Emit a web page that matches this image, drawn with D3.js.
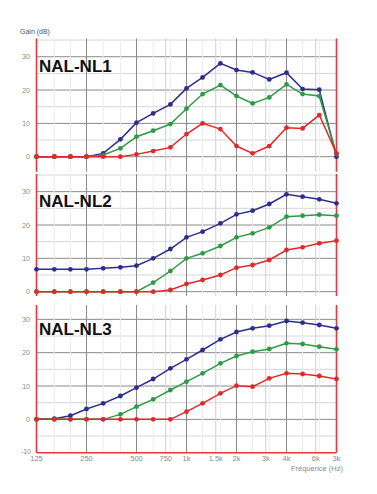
<!DOCTYPE html>
<html>
<head>
<meta charset="utf-8">
<script src="https://cdn.jsdelivr.net/npm/d3@7"></script>
<style>
body { margin: 0; background: #fff; }
text { font-family: "Liberation Sans", Arial, sans-serif; }
</style>
</head>
<body>
<div id="chart"></div>
<script>
// third-octave frequencies (Hz)
var freqs = [125, 160, 200, 250, 315, 400, 500, 630, 800, 1000, 1250, 1600, 2000, 2500, 3150, 4000, 5000, 6300, 8000];

var nl1Blue  = [0, 0, 0, 0, 1, 5.2, 10.2, 13, 15.7, 20.5, 23.8, 28, 26, 25.3, 23.2, 25.2, 20.3, 20.1, 0];
var nl1Green = [0, 0, 0, 0, 0.5, 2.5, 6, 7.8, 9.8, 14.4, 18.8, 21.5, 18.2, 16, 17.8, 21.7, 18.8, 18.2, 0.8];
var nl1Red   = [0, 0, 0, 0, 0, 0, 0.7, 1.7, 2.8, 6.8, 10, 8.3, 3.2, 1, 3.2, 8.7, 8.5, 12.5, 1];

var nl2Blue  = [6.7, 6.7, 6.7, 6.7, 7, 7.3, 7.8, 10, 12.8, 16.3, 18, 20.5, 23.2, 24.3, 26.3, 29.2, 28.5, 27.7, 26.5];
var nl2Green = [0, 0, 0, 0, 0, 0, 0, 2.7, 6.2, 10, 11.5, 13.7, 16.3, 17.5, 19.3, 22.5, 22.8, 23.1, 22.8];
var nl2Red   = [0, 0, 0, 0, 0, 0, 0, 0, 0.5, 2.3, 3.5, 5, 7.2, 8, 9.5, 12.5, 13.3, 14.5, 15.3];

var nl3Blue  = [0, 0.2, 1.1, 3.1, 4.8, 7, 9.5, 12.1, 15.3, 18, 20.8, 24, 26.2, 27.3, 28.1, 29.5, 29, 28.3, 27.3];
var nl3Green = [0, 0, 0, 0, 0, 1.5, 3.8, 6, 8.8, 11.3, 13.8, 16.8, 19, 20.3, 21.1, 22.8, 22.6, 21.8, 21];
var nl3Red   = [0, 0, 0, 0, 0, 0, 0, 0, 0, 2.3, 4.8, 7.8, 10.1, 9.8, 12.3, 13.8, 13.6, 13, 12.1];

var panelNames = ["NAL-NL1", "NAL-NL2", "NAL-NL3"];
var yTicks = [30, 20, 10, 0];
var xTickVals = [125, 250, 500, 750, 1000, 1500, 2000, 3000, 4000, 6000, 8000];
var xTickLabels = ["125", "250", "500", "750", "1k", "1.5k", "2k", "3k", "4k", "6k", "3k"];
var majorX = [250, 500, 1000, 2000, 4000];
var minorX = [750, 1500, 3000, 6000];

var colors = { blue: "#2c2e8e", green: "#2f9a45", red: "#e02a2a" };
var axisRed = "#ee3340";

var svgWidth = 377;
var svgHeight = 494;

var svg = d3.select("#chart")
    .append("svg")
    .attr("width", svgWidth)
    .attr("height", svgHeight);

var x = d3.scaleLog().base(2)
    .domain([125, 8000])
    .range([36.5, 336.5]);

// each panel is a crop of the same gain plot; red drawn last (on top)
var panels = [
    { name: panelNames[0], domain: [-4.5, 35.5], range: [171.7, 38.4], labelY: 72, series: [nl1Blue, nl1Green, nl1Red] },
    { name: panelNames[1], domain: [-1.3, 35.3], range: [296, 174], labelY: 207, series: [nl2Blue, nl2Green, nl2Red] },
    { name: panelNames[2], domain: [-10, 34.3], range: [452.7, 305], labelY: 335, series: [nl3Blue, nl3Green, nl3Red] }
];
var seriesColors = [colors.blue, colors.green, colors.red];

// faint third-octave grid
var faintX = freqs.filter(f => majorX.indexOf(f) < 0 && f !== 125 && f !== 8000);

panels.forEach(function(p, pi) {
    var y = d3.scaleLinear().domain(p.domain).range(p.range);
    var g = svg.append("g");
    var top = p.range[1], bottom = p.range[0];

    // horizontal grid
    var hMinor = d3.range(-10, 36, 5).filter(v => v % 10 !== 0 && v > p.domain[0] && v < p.domain[1]);
    var hMajor = d3.range(-10, 36, 10).filter(v => v > p.domain[0] && v < p.domain[1]);
    g.selectAll(".hminor").data(hMinor).enter().append("line")
        .attr("x1", x(125)).attr("x2", x(8000))
        .attr("y1", d => y(d)).attr("y2", d => y(d))
        .attr("stroke", "#d6d6d6").attr("stroke-width", 1);
    g.selectAll(".hmajor").data(hMajor).enter().append("line")
        .attr("x1", x(125)).attr("x2", x(8000))
        .attr("y1", d => y(d)).attr("y2", d => y(d))
        .attr("stroke", "#8a8a8a").attr("stroke-width", 1);

    // vertical grid
    g.selectAll(".vfaint").data(faintX).enter().append("line")
        .attr("x1", d => x(d)).attr("x2", d => x(d))
        .attr("y1", top).attr("y2", bottom)
        .attr("stroke", "#ececec").attr("stroke-width", 1);
    g.selectAll(".vminor").data(minorX).enter().append("line")
        .attr("x1", d => x(d)).attr("x2", d => x(d))
        .attr("y1", top).attr("y2", bottom)
        .attr("stroke", "#cfcfcf").attr("stroke-width", 1);
    g.selectAll(".vmajor").data(majorX).enter().append("line")
        .attr("x1", d => x(d)).attr("x2", d => x(d))
        .attr("y1", top).attr("y2", bottom)
        .attr("stroke", "#8a8a8a").attr("stroke-width", 1);

    // red frame sides
    g.append("line")
        .attr("x1", x(125)).attr("x2", x(125))
        .attr("y1", top).attr("y2", bottom)
        .attr("stroke", axisRed).attr("stroke-width", 1.6);
    g.append("line")
        .attr("x1", x(8000)).attr("x2", x(8000))
        .attr("y1", top).attr("y2", bottom)
        .attr("stroke", axisRed).attr("stroke-width", 1.6);
    if (pi === 2) {
        g.append("line")
            .attr("x1", x(125)).attr("x2", x(8000))
            .attr("y1", bottom).attr("y2", bottom)
            .attr("stroke", axisRed).attr("stroke-width", 1.6);
    }

    // y tick labels
    g.selectAll(".ylab").data(yTicks).enter().append("text")
        .attr("x", 30)
        .attr("y", d => y(d) + 2.5)
        .attr("text-anchor", "end")
        .attr("font-size", "7px")
        .attr("fill", "#8a8a8a")
        .text(d => d);

    // curves
    var line = d3.line()
        .x((d, i) => x(freqs[i]))
        .y(d => y(d));
    p.series.forEach(function(s, si) {
        g.append("path")
            .datum(s)
            .attr("d", line)
            .attr("fill", "none")
            .attr("stroke", seriesColors[si])
            .attr("stroke-width", 1.5);
        g.selectAll(null).data(s).enter().append("circle")
            .attr("cx", (d, i) => x(freqs[i]))
            .attr("cy", d => y(d))
            .attr("r", 2.4)
            .attr("fill", seriesColors[si]);
    });

    // panel title
    g.append("text")
        .attr("x", 39)
        .attr("y", p.labelY)
        .attr("font-size", "17px")
        .attr("font-weight", "bold")
        .attr("fill", "#111")
        .text(p.name);
});

// -10 label at bottom of last panel
svg.append("text")
    .attr("x", 31).attr("y", 454)
    .attr("text-anchor", "end")
    .attr("font-size", "7px")
    .attr("fill", "#8a8a8a")
    .text("-10");

// x tick labels
svg.selectAll(".xlab").data(xTickVals).enter().append("text")
    .attr("x", d => x(d))
    .attr("y", 461)
    .attr("text-anchor", "middle")
    .attr("font-size", "7.5px")
    .attr("fill", "#8a8a8a")
    .text((d, i) => xTickLabels[i]);

// axis titles
svg.append("text")
    .attr("x", 20).attr("y", 34)
    .attr("font-size", "7px")
    .attr("fill", "#555")
    .text("Gain (dB)");

svg.append("text")
    .attr("x", 343).attr("y", 471)
    .attr("text-anchor", "end")
    .attr("font-size", "7.5px")
    .attr("fill", "#8a8a8a")
    .text("Fréquence (Hz)");
</script>
</body>
</html>
